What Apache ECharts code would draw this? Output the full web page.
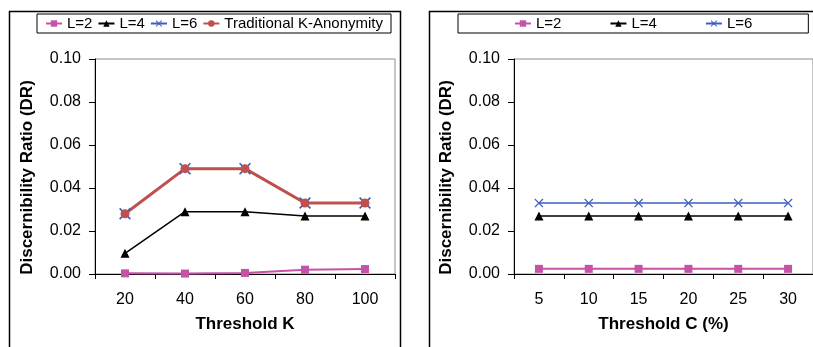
<!DOCTYPE html>
<html><head><meta charset="utf-8">
<script src="https://cdn.jsdelivr.net/npm/echarts@6/dist/echarts.min.js"></script>
<style>html,body{margin:0;padding:0;background:#fff}#c{width:813px;height:347px}</style>
</head><body><div id="c"></div>
<script>
var catK = ['20','40','60','80','100'];
var catC = ['5','10','15','20','25','30'];
var kL2 = [0.0003, 0.0002, 0.0005, 0.0020, 0.0023];
var kL4 = [0.0096, 0.029, 0.029, 0.027, 0.027];
var kL6 = [0.028, 0.049, 0.049, 0.033, 0.033];
var kTrad = [0.028, 0.049, 0.049, 0.033, 0.033];
var cL2 = [0.0024, 0.0024, 0.0024, 0.0024, 0.0024, 0.0024];
var cL4 = [0.027, 0.027, 0.027, 0.027, 0.027, 0.027];
var cL6 = [0.033, 0.033, 0.033, 0.033, 0.033, 0.033];
var yTitle = 'Discernibility Ratio (DR)';
var xTitleK = 'Threshold K';
var xTitleC = 'Threshold C (%)';

var FONT = '"Liberation Sans", Arial, sans-serif';
var PINK = '#C452A6', BLACK = '#000', BLUE = '#3F5FBF', RED = '#C0504D';
var XPATH = 'path://M0,1L1,0L5,4L9,0L10,1L6,5L10,9L9,10L5,6L1,10L0,9L4,5Z';

function yAxis(gi){
  return {type:'value', gridIndex:gi, min:0, max:0.1, interval:0.02,
    name: yTitle, nameLocation:'middle', nameGap:59, nameRotate:90,
    nameTextStyle:{fontFamily:FONT, fontSize:17, fontWeight:'bold', color:'#000', padding:[0,22,0,0]},
    axisLine:{show:true, lineStyle:{color:'#000', width:1}},
    axisTick:{show:true, length:6, lineStyle:{color:'#000'}},
    splitLine:{show:false},
    axisLabel:{fontFamily:FONT, fontSize:16, color:'#000', margin:14,
      formatter:function(v){return v.toFixed(2);}}};
}
function xAxis(gi, cats, title){
  return {type:'category', gridIndex:gi, data:cats, boundaryGap:true,
    name:title, nameLocation:'middle', nameGap:42,
    nameTextStyle:{fontFamily:FONT, fontSize:17, fontWeight:'bold', color:'#000'},
    axisLine:{show:true, onZero:true, lineStyle:{color:'#000', width:1}},
    axisTick:{show:true, length:5, alignWithLabel:false, lineStyle:{color:'#000'}},
    splitLine:{show:false},
    axisLabel:{fontFamily:FONT, fontSize:16, color:'#000', margin:18}};
}
function ser(name, gi, data, color, symbol, size, lw){
  return {name:name, type:'line', xAxisIndex:gi, yAxisIndex:gi, data:data,
    symbol:symbol, symbolSize:size, showSymbol:true,
    lineStyle:{color:color, width:lw}, itemStyle:{color:color},
    emphasis:{disabled:true}, animation:false};
}
var legendText = {fontFamily:FONT, fontSize:15, color:'#000'};
var option = {
  animation:false,
  grid:[
    {left:95, top:59, width:300, bottom:73, show:true, borderColor:'#8c8c8c', borderWidth:1, backgroundColor:'transparent'},
    {left:514, top:59, width:300, bottom:73, show:true, borderColor:'#8c8c8c', borderWidth:1, backgroundColor:'transparent'}
  ],
  xAxis:[xAxis(0, catK, xTitleK), xAxis(1, catC, xTitleC)],
  yAxis:[yAxis(0), yAxis(1)],
  legend:[
    {left:37, top:14, orient:'horizontal', borderColor:'#000', borderWidth:1, padding:[2,8],
     itemWidth:16, itemHeight:8, itemGap:5, textStyle:legendText,
     data:[{name:'L=2'},{name:'L=4'},{name:'L=6'},{name:'Traditional K-Anonymity'}]},
    {left:458, top:14, orient:'horizontal', borderColor:'#000', borderWidth:1, padding:[2,56],
     itemWidth:16, itemHeight:8, itemGap:48, textStyle:legendText,
     data:[{name:'L=2 '},{name:'L=4 '},{name:'L=6 '}],
     formatter:function(n){return n.trim();}}
  ],
  graphic:[
    {type:'rect', shape:{x:9.5, y:11.5, width:391, height:350}, style:{fill:'none', stroke:'#000', lineWidth:1.5}, silent:true, z:-1},
    {type:'rect', shape:{x:429.5, y:11.5, width:400, height:350}, style:{fill:'none', stroke:'#000', lineWidth:1.5}, silent:true, z:-1}
  ],
  series:[
    ser('L=2', 0, kL2, PINK, 'rect', 8, 2),
    ser('L=4', 0, kL4, BLACK, 'triangle', 9, 1.5),
    ser('L=6', 0, kL6, BLUE, XPATH, 12, 1.5),
    ser('Traditional K-Anonymity', 0, kTrad, RED, 'circle', 9, 3),
    ser('L=2 ', 1, cL2, PINK, 'rect', 8, 2),
    ser('L=4 ', 1, cL4, BLACK, 'triangle', 9, 1.5),
    ser('L=6 ', 1, cL6, BLUE, XPATH, 9, 1.5)
  ]
};
var chart = echarts.init(document.getElementById('c'), null, {renderer:'canvas'});
chart.setOption(option);
</script></body></html>
